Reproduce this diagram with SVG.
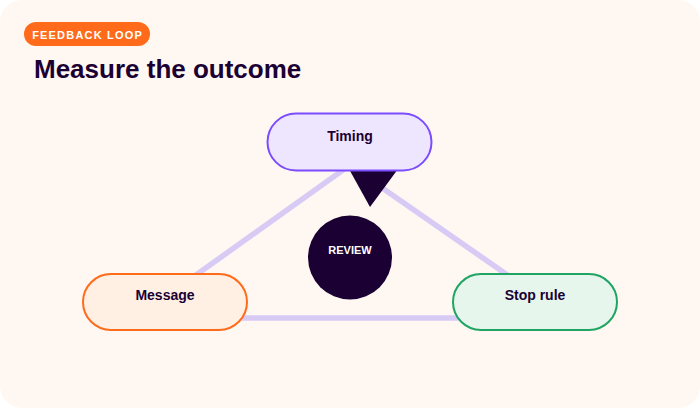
<svg xmlns="http://www.w3.org/2000/svg" width="700" height="408" viewBox="0 0 700 408">
  <style>
    .lbl { font-family: "Liberation Sans", Arial, sans-serif; font-weight: bold; fill: #1A0033; font-size: 14px; text-anchor: middle; }
    .edge { stroke: #D7CBF6; stroke-width: 5.5; stroke-linecap: butt; fill: none; }
    .node { stroke-width: 2; }
  </style>
  <rect x="0" y="0" width="700" height="408" fill="#FFFFFF"/>
  <rect x="0" y="0" width="700" height="408" rx="22" fill="#FFF7F1"/>
  <g id="header">
    <rect x="24" y="22" width="126" height="24" rx="12" fill="#FF6B1A"/>
    <text x="87.6" y="39" font-family="'Liberation Sans', Arial, sans-serif" font-weight="bold" font-size="11" letter-spacing="1.2" fill="#FFFFFF" text-anchor="middle">FEEDBACK LOOP</text>
    <text x="34" y="78" font-family="'Liberation Sans', Arial, sans-serif" font-weight="bold" font-size="26" fill="#1A0033">Measure the outcome</text>
  </g>
  <g id="connectors">
    <line class="edge" x1="357" y1="160" x2="175" y2="290"/>
    <line class="edge" x1="342" y1="160" x2="529" y2="290"/>
    <line class="edge" x1="240" y1="318" x2="460" y2="318"/>
    <polygon points="349,169 398,169 370,207" fill="#1A0033"/>
  </g>
  <g id="timing">
    <rect class="node" x="267.5" y="113.5" width="164" height="57" rx="28.5" fill="#EEE6FF" stroke="#7C4DFF"/>
    <text class="lbl" x="350" y="141">Timing</text>
  </g>
  <g id="message">
    <rect class="node" x="83" y="274" width="164" height="56" rx="28" fill="#FFF0E3" stroke="#FF6B1A"/>
    <text class="lbl" x="165" y="300">Message</text>
  </g>
  <g id="stop-rule">
    <rect class="node" x="453" y="274" width="164" height="56" rx="28" fill="#E6F6EC" stroke="#1FA463"/>
    <text class="lbl" x="535" y="300">Stop rule</text>
  </g>
  <g id="review">
    <circle cx="350" cy="257.5" r="42" fill="#1A0033"/>
    <text x="350" y="254" font-family="'Liberation Sans', Arial, sans-serif" font-weight="bold" font-size="11" fill="#FFFFFF" text-anchor="middle">REVIEW</text>
  </g>
</svg>
